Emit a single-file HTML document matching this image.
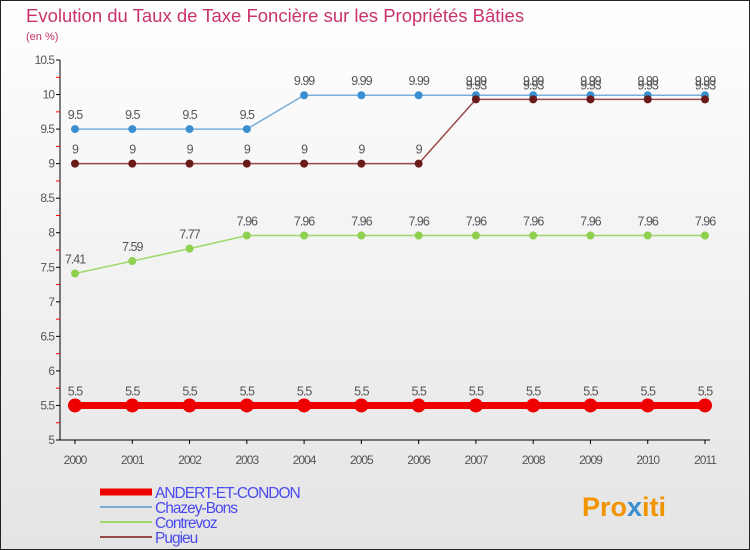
<!DOCTYPE html>
<html><head><meta charset="utf-8"><style>
body{margin:0;}
svg{display:block;font-family:"Liberation Sans",sans-serif;}
</style></head><body>
<svg id="c" width="750" height="550">
<defs><linearGradient id="bg" x1="0" y1="0" x2="0" y2="1"><stop offset="0" stop-color="#ffffff"/><stop offset="1" stop-color="#e4e4e4"/></linearGradient></defs>
<rect x="0.5" y="0.5" width="749" height="549" fill="url(#bg)" stroke="#222"/>
<text x="26" y="22" font-size="18.5" fill="#c8336d">Evolution du Taux de Taxe Foncière sur les Propriétés Bâties</text>
<text x="26" y="40" font-size="11" fill="#c8336d">(en %)</text>
<g id="axes"></g><g id="series"></g><g id="legend"></g>
<text x="582" y="516" font-size="27" font-weight="bold" fill="#f29400">Pro<tspan fill="#3a8fd0">x</tspan>iti</text>
</svg>
<script>
const years=[2000,2001,2002,2003,2004,2005,2006,2007,2008,2009,2010,2011];
const andert=[5.5,5.5,5.5,5.5,5.5,5.5,5.5,5.5,5.5,5.5,5.5,5.5];
const chazey=[9.5,9.5,9.5,9.5,9.99,9.99,9.99,9.99,9.99,9.99,9.99,9.99];
const contrevoz=[7.41,7.59,7.77,7.96,7.96,7.96,7.96,7.96,7.96,7.96,7.96,7.96];
const pugieu=[9,9,9,9,9,9,9,9.93,9.93,9.93,9.93,9.93];
const yTicks=[5,5.5,6,6.5,7,7.5,8,8.5,9,9.5,10,10.5];
const NS='http://www.w3.org/2000/svg';
const xs=i=>75+i*(630/11);
const ys=v=>440-(v-5)*(380/5.5);
function mk(t,a,p){const e=document.createElementNS(NS,t);for(const k in a)e.setAttribute(k,a[k]);p.appendChild(e);return e;}
const ax=document.getElementById('axes');
let yl=mk('line',{x1:60,y1:60,x2:60,y2:440,stroke:'#000'},ax);


let xl=mk('line',{x1:60,y1:440,x2:710,y2:440,stroke:'#000'},ax);


yTicks.forEach(v=>{const y=ys(v);
mk('line',{x1:56,y1:y,x2:60,y2:y,stroke:'#000'},ax);
mk('line',{x1:56,y1:y+17.3,x2:60,y2:y+17.3,stroke:v>5?'red':'none'},ax);
const t=mk('text',{x:54,y:y+4,'font-size':12,'text-anchor':'end',fill:'#555','letter-spacing':'-1'},ax);t.textContent=v;

});
years.forEach((yr,i)=>{const x=xs(i);
mk('line',{x1:x,y1:440,x2:x,y2:444,stroke:'#000'},ax);
const t=mk('text',{x:x,y:464,'font-size':12,'text-anchor':'middle',fill:'#555','letter-spacing':'-1'},ax);t.textContent=yr;

});
const sg=document.getElementById('series');
function draw(name,vals,col,dot,w,r){const g=mk('g',{},sg);


mk('polyline',{points:vals.map((v,i)=>xs(i)+','+ys(v)).join(' '),fill:'none',stroke:col,'stroke-width':w},g);
vals.forEach((v,i)=>{const c=mk('circle',{cx:xs(i),cy:ys(v),r:r,fill:dot},g);


const t=mk('text',{x:xs(i),y:ys(v)-10,'font-size':12.5,'text-anchor':'middle',fill:'#555','letter-spacing':'-1'},g);t.textContent=v;

});}
draw('contrevoz',contrevoz,'#9ed86a','#8fd04f',1.5,4);
draw('chazey-bons',chazey,'#7aaed8','#3a8fd0',1.5,4);
draw('pugieu',pugieu,'#9a4a4a','#6b1a1a',1.5,4);
draw('andert-et-condon',andert,'#ee0000','#ee0000',7,7);
const lg=document.getElementById('legend');
const leg=[['ANDERT-ET-CONDON','#ee0000',7],['Chazey-Bons','#7aaed8',2],['Contrevoz','#9ed86a',2],['Pugieu','#9a4a4a',2]];
leg.forEach((l,i)=>{const y=492+i*15;const g=mk('g',{},lg);


mk('line',{x1:100,y1:y,x2:152,y2:y,stroke:l[1],'stroke-width':l[2]},g);
const t=mk('text',{x:155,y:y+6,'font-size':15.5,fill:'#4a4aee','letter-spacing':'-1'},g);t.textContent=l[0];});
</script>
</body></html>
